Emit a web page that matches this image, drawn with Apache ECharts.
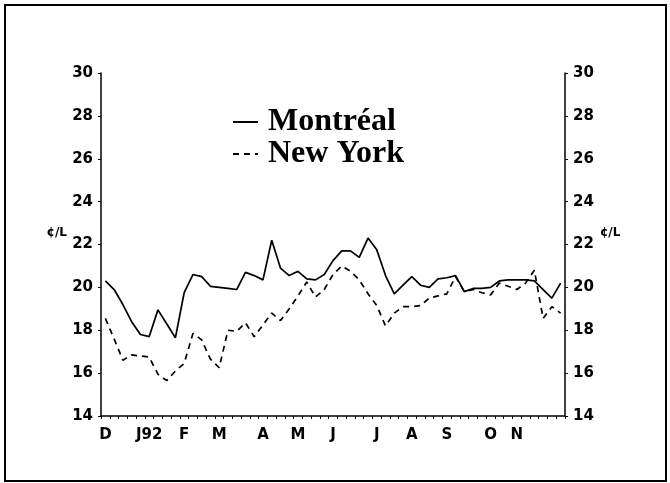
<!DOCTYPE html>
<html>
<head>
<meta charset="utf-8">
<script src="https://cdn.jsdelivr.net/npm/echarts@6/dist/echarts.min.js"></script>
<style>
html,body{margin:0;padding:0;background:#fff;}
#chart{width:670px;height:483px;}
</style>
</head>
<body>
<div id="chart"></div>
<script>
// Weekly observations, Dec 1991 - Dec 1992 (53 weeks)
const monthLabels = {0:'D',5:'J92',9:'F',13:'M',18:'A',22:'M',26:'J',31:'J',35:'A',39:'S',44:'O',47:'N'};
const weeks = Array.from({length:53}, (_, i) => monthLabels[i] || '');

const montreal = [
  20.3, 19.9, 19.2, 18.4, 17.8, 17.7, 18.95, 18.3, 17.65, 19.75,
  20.6, 20.5, 20.05, 20.0, 19.95, 19.9, 20.7, 20.55, 20.35, 22.2,
  20.9, 20.55, 20.75, 20.4, 20.35, 20.6, 21.25, 21.7, 21.7, 21.4,
  22.3, 21.75, 20.55, 19.7, 20.1, 20.5, 20.1, 20.0, 20.4, 20.45,
  20.55, 19.8, 19.95, 19.95, 20.0, 20.3, 20.35, 20.35, 20.35, 20.3,
  19.9, 19.5, 20.2
];
const newYork = [
  18.55, 17.6, 16.6, 16.85, 16.8, 16.75, 15.95, 15.65, 16.1, 16.45,
  17.85, 17.55, 16.65, 16.25, 18.0, 17.95, 18.35, 17.7, 18.25, 18.8,
  18.45, 19.0, 19.6, 20.25, 19.55, 19.9, 20.6, 21.0, 20.75, 20.35,
  19.7, 19.15, 18.2, 18.8, 19.1, 19.1, 19.15, 19.5, 19.6, 19.7,
  20.5, 19.8, 19.9, 19.75, 19.65, 20.2, 20.05, 19.9, 20.2, 20.8,
  18.55, 19.1, 18.8
];
const seriesNames = ['Montréal', 'New York'];
const unitLabel = '¢/L';
const yMin = 14, yMax = 30, yStep = 2;

const chart = echarts.init(document.getElementById('chart'), null, {renderer:'canvas'});
const labelFont = {fontFamily:'DejaVu Sans', fontWeight:'bold', fontSize:15, color:'#000'};
function yAxis(pos, gap) {
  return {
    type:'value', position:pos, min:yMin, max:yMax, interval:yStep,
    name: unitLabel, nameLocation:'middle', nameRotate:0, nameGap:gap, nameMoveOverlap:false,
    nameTextStyle:{fontFamily:'DejaVu Sans', fontWeight:'bold', fontSize:12, color:'#000', verticalAlign:'bottom', padding:[0,0,6,0]},
    axisLine:{show:true, lineStyle:{color:'#000', width:1.5}},
    axisTick:{show:true, length:3, lineStyle:{color:'#000', width:1}},
    axisLabel:Object.assign({margin:8}, labelFont),
    splitLine:{show:false}
  };
}
chart.setOption({
  animation:false,
  backgroundColor:'#fff',
  grid:{left:101, right:105, top:73, bottom:67},
  legend:{
    data:seriesNames, orient:'vertical', left:227, top:101,
    itemWidth:25, itemHeight:14, itemGap:0,
    itemStyle:{opacity:0},
    textStyle:{fontFamily:'Liberation Serif', fontWeight:'bold', fontSize:32, color:'#000', padding:[0,0,0,5]}
  },
  xAxis:{
    type:'category', data:weeks, boundaryGap:true,
    axisLine:{show:true, lineStyle:{color:'#000', width:1.5}},
    axisTick:{show:true, interval:0, length:3, lineStyle:{color:'#000', width:1}},
    axisLabel:Object.assign({interval:0, margin:12}, labelFont),
    splitLine:{show:false}
  },
  yAxis:[yAxis('left', 34), yAxis('right', 35)],
  series:[
    {name:seriesNames[0], type:'line', data:montreal, symbol:'none',
     lineStyle:{color:'#000', width:1.7, type:'solid'}, itemStyle:{color:'#000'}},
    {name:seriesNames[1], type:'line', data:newYork, symbol:'none',
     lineStyle:{color:'#000', width:1.7, type:[6,5]}, itemStyle:{color:'#000'}}
  ],
  graphic:[{
    type:'rect', shape:{x:5, y:5, width:661, height:476},
    style:{fill:'none', stroke:'#000', lineWidth:2}, silent:true
  }]
});
</script>
</body>
</html>
